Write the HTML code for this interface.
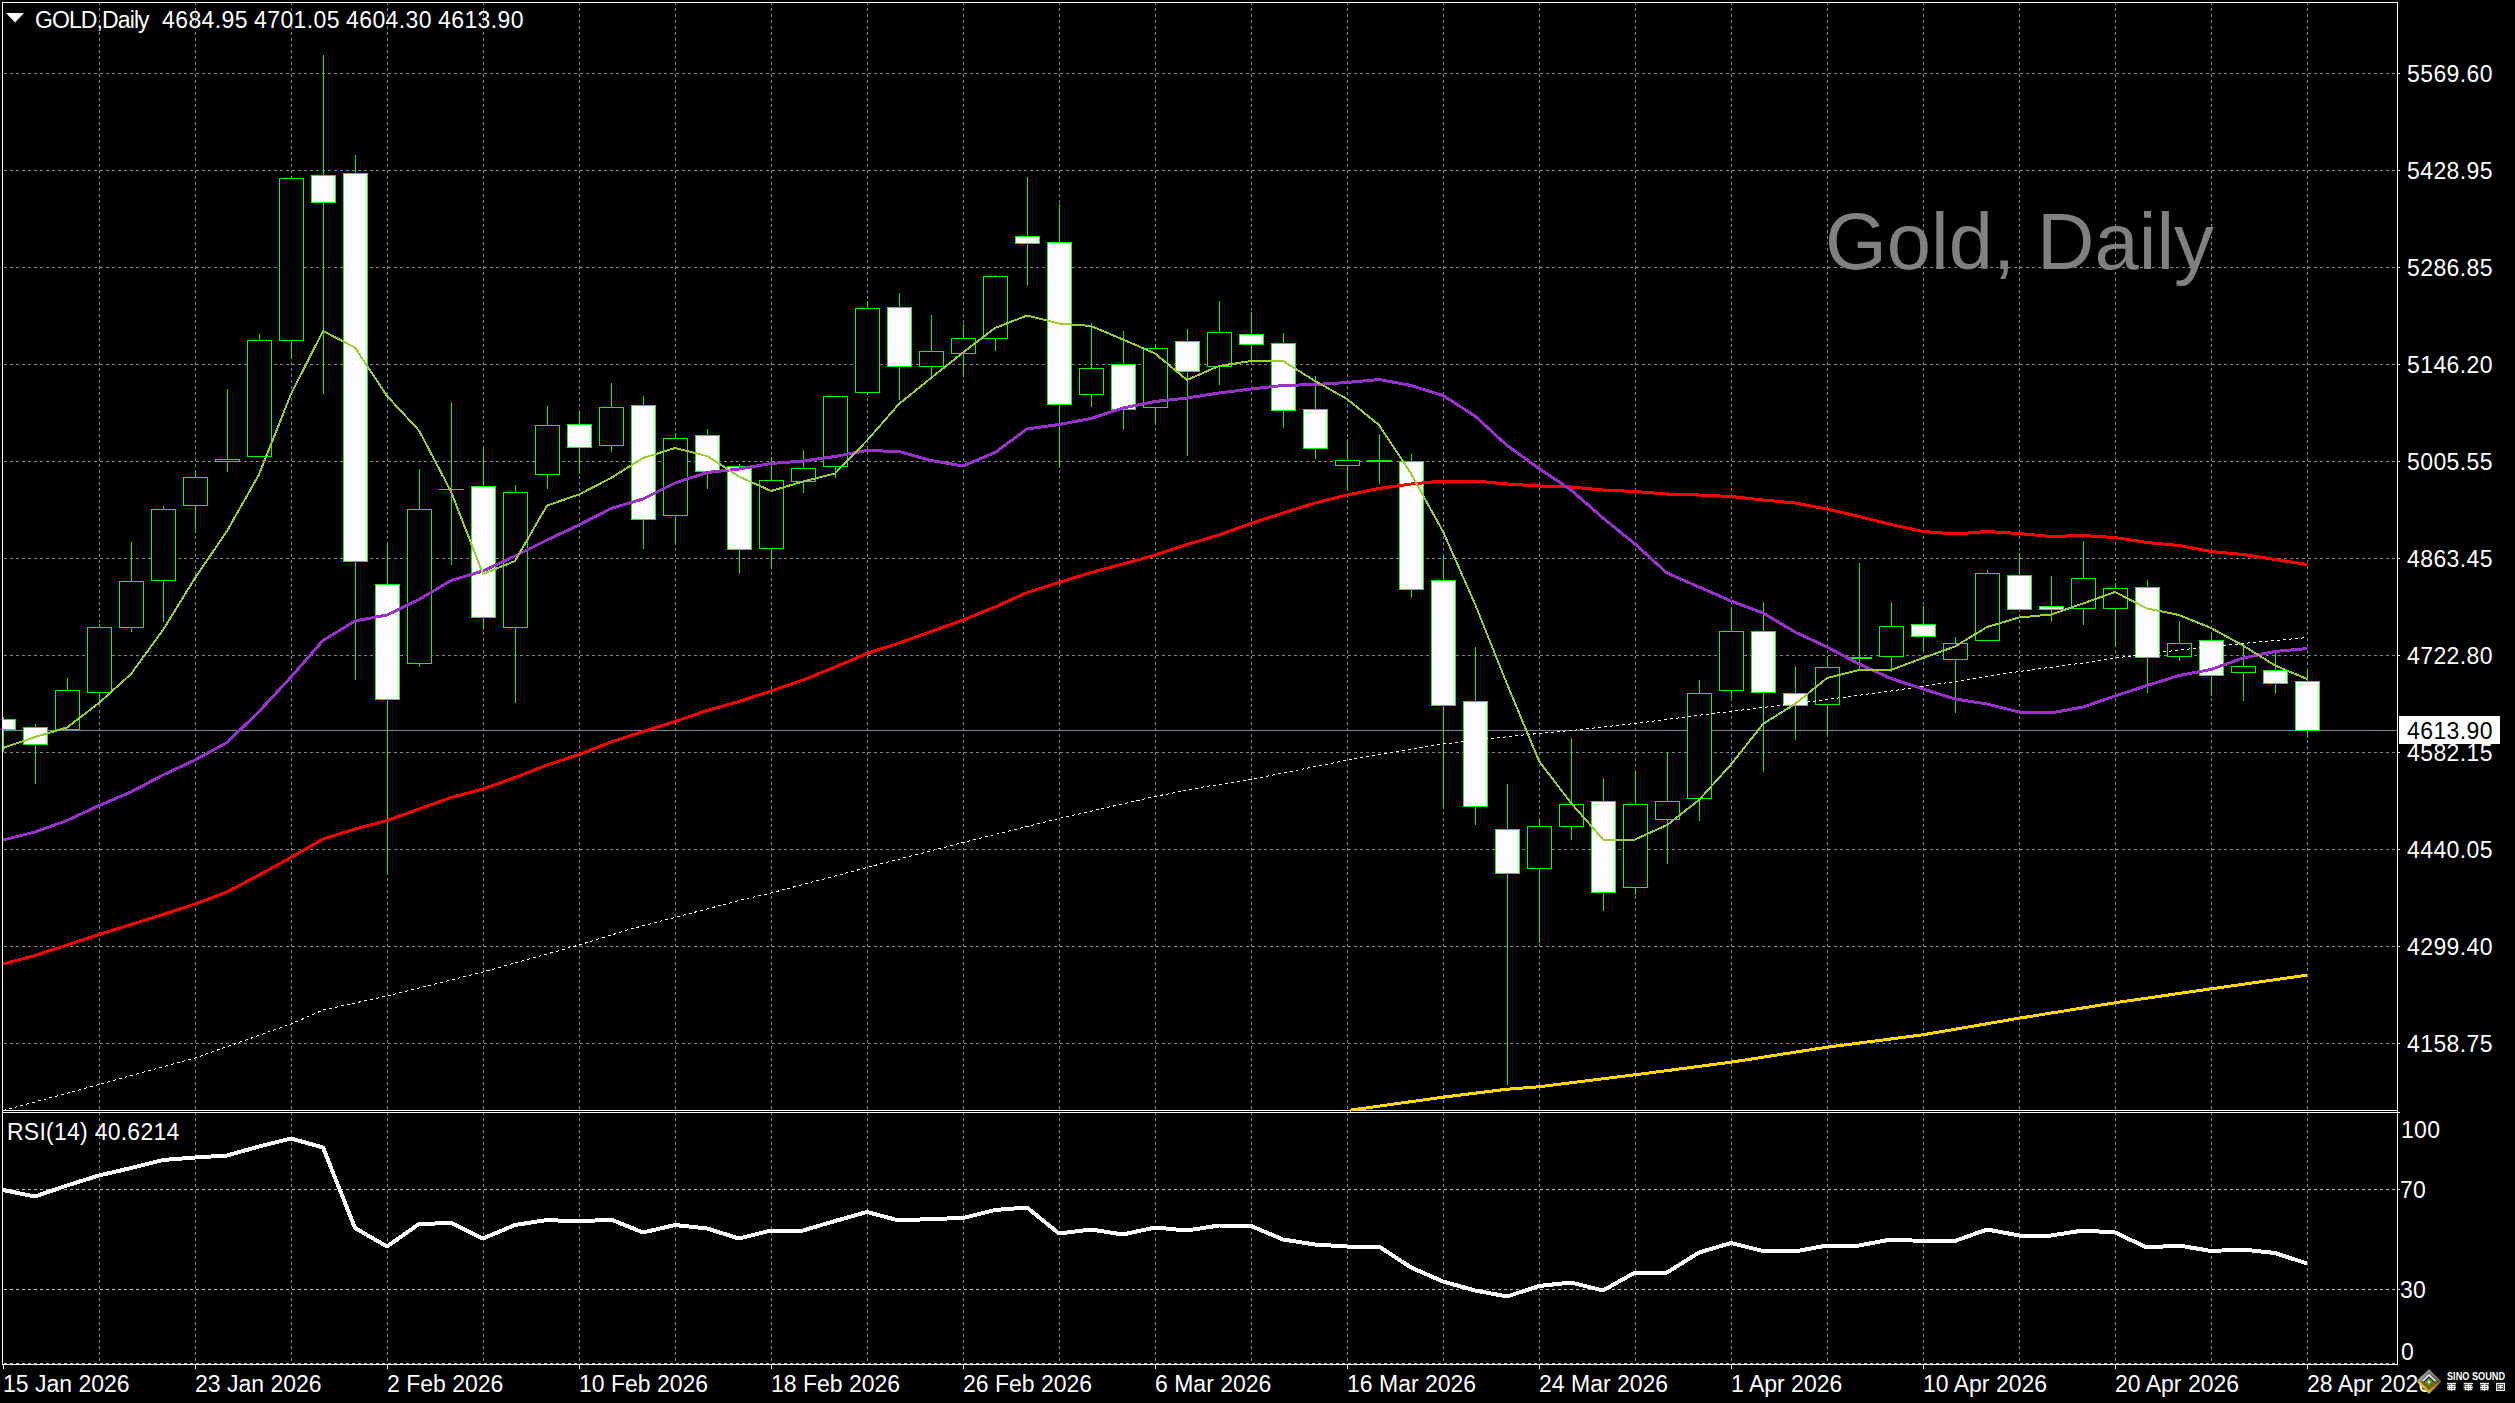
<!DOCTYPE html>
<html><head><meta charset="utf-8"><title>GOLD,Daily</title>
<style>
html,body{margin:0;padding:0;background:#000;}
body{width:2515px;height:1403px;overflow:hidden;position:relative;font-family:"Liberation Sans",sans-serif;}
svg{position:absolute;left:0;top:0;}
.t{position:absolute;color:#fff;font-size:23px;line-height:1;white-space:nowrap;}
</style></head><body>
<svg width="2515" height="1403" viewBox="0 0 2515 1403">
<rect x="0" y="0" width="2515" height="1403" fill="#000"/>
<text x="1825" y="269" font-family="Liberation Sans, sans-serif" font-size="79.5" fill="#808080">Gold, Daily</text>
<g shape-rendering="crispEdges" stroke="#778899" stroke-width="1" stroke-dasharray="3 3" fill="none">
<line x1="4" y1="73.5" x2="2398" y2="73.5"/>
<line x1="4" y1="170.5" x2="2398" y2="170.5"/>
<line x1="4" y1="267.5" x2="2398" y2="267.5"/>
<line x1="4" y1="364.5" x2="2398" y2="364.5"/>
<line x1="4" y1="461.5" x2="2398" y2="461.5"/>
<line x1="4" y1="558.5" x2="2398" y2="558.5"/>
<line x1="4" y1="655.5" x2="2398" y2="655.5"/>
<line x1="4" y1="752.5" x2="2398" y2="752.5"/>
<line x1="4" y1="849.5" x2="2398" y2="849.5"/>
<line x1="4" y1="946.5" x2="2398" y2="946.5"/>
<line x1="4" y1="1043.5" x2="2398" y2="1043.5"/>
<line x1="99.5" y1="2" x2="99.5" y2="1110"/>
<line x1="99.5" y1="1112" x2="99.5" y2="1364"/>
<line x1="195.5" y1="2" x2="195.5" y2="1110"/>
<line x1="195.5" y1="1112" x2="195.5" y2="1364"/>
<line x1="291.5" y1="2" x2="291.5" y2="1110"/>
<line x1="291.5" y1="1112" x2="291.5" y2="1364"/>
<line x1="387.5" y1="2" x2="387.5" y2="1110"/>
<line x1="387.5" y1="1112" x2="387.5" y2="1364"/>
<line x1="483.5" y1="2" x2="483.5" y2="1110"/>
<line x1="483.5" y1="1112" x2="483.5" y2="1364"/>
<line x1="579.5" y1="2" x2="579.5" y2="1110"/>
<line x1="579.5" y1="1112" x2="579.5" y2="1364"/>
<line x1="675.5" y1="2" x2="675.5" y2="1110"/>
<line x1="675.5" y1="1112" x2="675.5" y2="1364"/>
<line x1="771.5" y1="2" x2="771.5" y2="1110"/>
<line x1="771.5" y1="1112" x2="771.5" y2="1364"/>
<line x1="867.5" y1="2" x2="867.5" y2="1110"/>
<line x1="867.5" y1="1112" x2="867.5" y2="1364"/>
<line x1="963.5" y1="2" x2="963.5" y2="1110"/>
<line x1="963.5" y1="1112" x2="963.5" y2="1364"/>
<line x1="1059.5" y1="2" x2="1059.5" y2="1110"/>
<line x1="1059.5" y1="1112" x2="1059.5" y2="1364"/>
<line x1="1155.5" y1="2" x2="1155.5" y2="1110"/>
<line x1="1155.5" y1="1112" x2="1155.5" y2="1364"/>
<line x1="1251.5" y1="2" x2="1251.5" y2="1110"/>
<line x1="1251.5" y1="1112" x2="1251.5" y2="1364"/>
<line x1="1347.5" y1="2" x2="1347.5" y2="1110"/>
<line x1="1347.5" y1="1112" x2="1347.5" y2="1364"/>
<line x1="1443.5" y1="2" x2="1443.5" y2="1110"/>
<line x1="1443.5" y1="1112" x2="1443.5" y2="1364"/>
<line x1="1539.5" y1="2" x2="1539.5" y2="1110"/>
<line x1="1539.5" y1="1112" x2="1539.5" y2="1364"/>
<line x1="1635.5" y1="2" x2="1635.5" y2="1110"/>
<line x1="1635.5" y1="1112" x2="1635.5" y2="1364"/>
<line x1="1731.5" y1="2" x2="1731.5" y2="1110"/>
<line x1="1731.5" y1="1112" x2="1731.5" y2="1364"/>
<line x1="1827.5" y1="2" x2="1827.5" y2="1110"/>
<line x1="1827.5" y1="1112" x2="1827.5" y2="1364"/>
<line x1="1923.5" y1="2" x2="1923.5" y2="1110"/>
<line x1="1923.5" y1="1112" x2="1923.5" y2="1364"/>
<line x1="2019.5" y1="2" x2="2019.5" y2="1110"/>
<line x1="2019.5" y1="1112" x2="2019.5" y2="1364"/>
<line x1="2115.5" y1="2" x2="2115.5" y2="1110"/>
<line x1="2115.5" y1="1112" x2="2115.5" y2="1364"/>
<line x1="2211.5" y1="2" x2="2211.5" y2="1110"/>
<line x1="2211.5" y1="1112" x2="2211.5" y2="1364"/>
<line x1="2307.5" y1="2" x2="2307.5" y2="1110"/>
<line x1="2307.5" y1="1112" x2="2307.5" y2="1364"/>
</g>
<g shape-rendering="crispEdges" stroke="#c0c0c0" stroke-width="1" stroke-dasharray="3 3" fill="none">
<line x1="4" y1="1189.5" x2="2398" y2="1189.5"/>
<line x1="4" y1="1289.5" x2="2398" y2="1289.5"/>
<line x1="4" y1="1363.5" x2="2398" y2="1363.5"/>
</g>
<g shape-rendering="crispEdges" fill="#fff">
<rect x="2" y="2" width="2396" height="1"/>
<rect x="2" y="2" width="1" height="1363"/>
<rect x="2397" y="2" width="1" height="1363"/>
<rect x="2" y="1110" width="2396" height="1"/>
<rect x="2" y="1112" width="2398" height="1"/>
<rect x="2" y="1364" width="2396" height="1"/>
<rect x="2398" y="73" width="2" height="1"/>
<rect x="2398" y="170" width="2" height="1"/>
<rect x="2398" y="267" width="2" height="1"/>
<rect x="2398" y="364" width="2" height="1"/>
<rect x="2398" y="461" width="2" height="1"/>
<rect x="2398" y="558" width="2" height="1"/>
<rect x="2398" y="655" width="2" height="1"/>
<rect x="2398" y="752" width="2" height="1"/>
<rect x="2398" y="849" width="2" height="1"/>
<rect x="2398" y="946" width="2" height="1"/>
<rect x="2398" y="1043" width="2" height="1"/>
<rect x="2398" y="1189" width="2" height="1"/>
<rect x="2398" y="1289" width="2" height="1"/>
<rect x="3" y="1365" width="1" height="4"/>
<rect x="195" y="1365" width="1" height="4"/>
<rect x="387" y="1365" width="1" height="4"/>
<rect x="579" y="1365" width="1" height="4"/>
<rect x="771" y="1365" width="1" height="4"/>
<rect x="963" y="1365" width="1" height="4"/>
<rect x="1155" y="1365" width="1" height="4"/>
<rect x="1347" y="1365" width="1" height="4"/>
<rect x="1539" y="1365" width="1" height="4"/>
<rect x="1731" y="1365" width="1" height="4"/>
<rect x="1923" y="1365" width="1" height="4"/>
<rect x="2115" y="1365" width="1" height="4"/>
<rect x="2307" y="1365" width="1" height="4"/>
</g>
<rect x="3" y="730" width="2394" height="1" fill="#778899" shape-rendering="crispEdges"/>
<g shape-rendering="crispEdges">
<rect x="3" y="717" width="1" height="35" fill="#00ff00"/>
<rect x="-9" y="719" width="25" height="11" fill="#00ff00"/>
<rect x="-8" y="720" width="23" height="9" fill="#fff"/>
<rect x="35" y="724" width="1" height="60" fill="#00ff00"/>
<rect x="23" y="727" width="25" height="18" fill="#00ff00"/>
<rect x="24" y="728" width="23" height="16" fill="#fff"/>
<rect x="67" y="678" width="1" height="52" fill="#00ff00"/>
<rect x="55" y="690" width="25" height="40" fill="#00ff00"/>
<rect x="56" y="691" width="23" height="38" fill="#000"/>
<rect x="99" y="624" width="1" height="77" fill="#00ff00"/>
<rect x="87" y="627" width="25" height="66" fill="#00ff00"/>
<rect x="88" y="628" width="23" height="64" fill="#000"/>
<rect x="131" y="542" width="1" height="90" fill="#00ff00"/>
<rect x="119" y="581" width="25" height="47" fill="#00ff00"/>
<rect x="120" y="582" width="23" height="45" fill="#000"/>
<rect x="163" y="506" width="1" height="116" fill="#00ff00"/>
<rect x="151" y="509" width="25" height="72" fill="#00ff00"/>
<rect x="152" y="510" width="23" height="70" fill="#000"/>
<rect x="195" y="471" width="1" height="62" fill="#00ff00"/>
<rect x="183" y="477" width="25" height="29" fill="#00ff00"/>
<rect x="184" y="478" width="23" height="27" fill="#000"/>
<rect x="227" y="389" width="1" height="83" fill="#00ff00"/>
<rect x="215" y="459" width="25" height="3" fill="#00ff00"/>
<rect x="216" y="460" width="23" height="1" fill="#000"/>
<rect x="259" y="334" width="1" height="123" fill="#00ff00"/>
<rect x="247" y="340" width="25" height="117" fill="#00ff00"/>
<rect x="248" y="341" width="23" height="115" fill="#000"/>
<rect x="291" y="177" width="1" height="182" fill="#00ff00"/>
<rect x="279" y="178" width="25" height="163" fill="#00ff00"/>
<rect x="280" y="179" width="23" height="161" fill="#000"/>
<rect x="323" y="55" width="1" height="339" fill="#00ff00"/>
<rect x="311" y="175" width="25" height="28" fill="#00ff00"/>
<rect x="312" y="176" width="23" height="26" fill="#fff"/>
<rect x="355" y="155" width="1" height="525" fill="#00ff00"/>
<rect x="343" y="173" width="25" height="389" fill="#00ff00"/>
<rect x="344" y="174" width="23" height="387" fill="#fff"/>
<rect x="387" y="544" width="1" height="331" fill="#00ff00"/>
<rect x="375" y="584" width="25" height="116" fill="#00ff00"/>
<rect x="376" y="585" width="23" height="114" fill="#fff"/>
<rect x="419" y="469" width="1" height="198" fill="#00ff00"/>
<rect x="407" y="509" width="25" height="155" fill="#00ff00"/>
<rect x="408" y="510" width="23" height="153" fill="#000"/>
<rect x="451" y="402" width="1" height="163" fill="#00ff00"/>
<rect x="439" y="489" width="25" height="1" fill="#00ff00"/>
<rect x="483" y="449" width="1" height="181" fill="#00ff00"/>
<rect x="471" y="486" width="25" height="132" fill="#00ff00"/>
<rect x="472" y="487" width="23" height="130" fill="#fff"/>
<rect x="515" y="485" width="1" height="218" fill="#00ff00"/>
<rect x="503" y="492" width="25" height="136" fill="#00ff00"/>
<rect x="504" y="493" width="23" height="134" fill="#000"/>
<rect x="547" y="406" width="1" height="83" fill="#00ff00"/>
<rect x="535" y="425" width="25" height="50" fill="#00ff00"/>
<rect x="536" y="426" width="23" height="48" fill="#000"/>
<rect x="579" y="410" width="1" height="64" fill="#00ff00"/>
<rect x="567" y="424" width="25" height="24" fill="#00ff00"/>
<rect x="568" y="425" width="23" height="22" fill="#fff"/>
<rect x="611" y="383" width="1" height="69" fill="#00ff00"/>
<rect x="599" y="407" width="25" height="39" fill="#00ff00"/>
<rect x="600" y="408" width="23" height="37" fill="#000"/>
<rect x="643" y="396" width="1" height="153" fill="#00ff00"/>
<rect x="631" y="405" width="25" height="115" fill="#00ff00"/>
<rect x="632" y="406" width="23" height="113" fill="#fff"/>
<rect x="675" y="433" width="1" height="111" fill="#00ff00"/>
<rect x="663" y="438" width="25" height="78" fill="#00ff00"/>
<rect x="664" y="439" width="23" height="76" fill="#000"/>
<rect x="707" y="429" width="1" height="60" fill="#00ff00"/>
<rect x="695" y="435" width="25" height="37" fill="#00ff00"/>
<rect x="696" y="436" width="23" height="35" fill="#fff"/>
<rect x="739" y="464" width="1" height="110" fill="#00ff00"/>
<rect x="727" y="466" width="25" height="84" fill="#00ff00"/>
<rect x="728" y="467" width="23" height="82" fill="#fff"/>
<rect x="771" y="457" width="1" height="112" fill="#00ff00"/>
<rect x="759" y="480" width="25" height="69" fill="#00ff00"/>
<rect x="760" y="481" width="23" height="67" fill="#000"/>
<rect x="803" y="450" width="1" height="43" fill="#00ff00"/>
<rect x="791" y="468" width="25" height="14" fill="#00ff00"/>
<rect x="792" y="469" width="23" height="12" fill="#000"/>
<rect x="835" y="396" width="1" height="82" fill="#00ff00"/>
<rect x="823" y="396" width="25" height="71" fill="#00ff00"/>
<rect x="824" y="397" width="23" height="69" fill="#000"/>
<rect x="867" y="301" width="1" height="94" fill="#00ff00"/>
<rect x="855" y="308" width="25" height="85" fill="#00ff00"/>
<rect x="856" y="309" width="23" height="83" fill="#000"/>
<rect x="899" y="293" width="1" height="107" fill="#00ff00"/>
<rect x="887" y="307" width="25" height="60" fill="#00ff00"/>
<rect x="888" y="308" width="23" height="58" fill="#fff"/>
<rect x="931" y="315" width="1" height="62" fill="#00ff00"/>
<rect x="919" y="351" width="25" height="16" fill="#00ff00"/>
<rect x="920" y="352" width="23" height="14" fill="#000"/>
<rect x="963" y="324" width="1" height="53" fill="#00ff00"/>
<rect x="951" y="338" width="25" height="16" fill="#00ff00"/>
<rect x="952" y="339" width="23" height="14" fill="#000"/>
<rect x="995" y="275" width="1" height="76" fill="#00ff00"/>
<rect x="983" y="276" width="25" height="63" fill="#00ff00"/>
<rect x="984" y="277" width="23" height="61" fill="#000"/>
<rect x="1027" y="177" width="1" height="109" fill="#00ff00"/>
<rect x="1015" y="236" width="25" height="8" fill="#00ff00"/>
<rect x="1016" y="237" width="23" height="6" fill="#fff"/>
<rect x="1059" y="204" width="1" height="264" fill="#00ff00"/>
<rect x="1047" y="242" width="25" height="163" fill="#00ff00"/>
<rect x="1048" y="243" width="23" height="161" fill="#fff"/>
<rect x="1091" y="323" width="1" height="84" fill="#00ff00"/>
<rect x="1079" y="368" width="25" height="27" fill="#00ff00"/>
<rect x="1080" y="369" width="23" height="25" fill="#000"/>
<rect x="1123" y="331" width="1" height="99" fill="#00ff00"/>
<rect x="1111" y="364" width="25" height="46" fill="#00ff00"/>
<rect x="1112" y="365" width="23" height="44" fill="#fff"/>
<rect x="1155" y="345" width="1" height="79" fill="#00ff00"/>
<rect x="1143" y="348" width="25" height="60" fill="#00ff00"/>
<rect x="1144" y="349" width="23" height="58" fill="#000"/>
<rect x="1187" y="329" width="1" height="127" fill="#00ff00"/>
<rect x="1175" y="341" width="25" height="31" fill="#00ff00"/>
<rect x="1176" y="342" width="23" height="29" fill="#fff"/>
<rect x="1219" y="301" width="1" height="84" fill="#00ff00"/>
<rect x="1207" y="332" width="25" height="35" fill="#00ff00"/>
<rect x="1208" y="333" width="23" height="33" fill="#000"/>
<rect x="1251" y="312" width="1" height="49" fill="#00ff00"/>
<rect x="1239" y="334" width="25" height="11" fill="#00ff00"/>
<rect x="1240" y="335" width="23" height="9" fill="#fff"/>
<rect x="1283" y="333" width="1" height="95" fill="#00ff00"/>
<rect x="1271" y="343" width="25" height="68" fill="#00ff00"/>
<rect x="1272" y="344" width="23" height="66" fill="#fff"/>
<rect x="1315" y="376" width="1" height="83" fill="#00ff00"/>
<rect x="1303" y="409" width="25" height="40" fill="#00ff00"/>
<rect x="1304" y="410" width="23" height="38" fill="#fff"/>
<rect x="1347" y="439" width="1" height="51" fill="#00ff00"/>
<rect x="1335" y="460" width="25" height="6" fill="#00ff00"/>
<rect x="1336" y="461" width="23" height="4" fill="#000"/>
<rect x="1379" y="434" width="1" height="50" fill="#00ff00"/>
<rect x="1367" y="460" width="25" height="2" fill="#00ff00"/>
<rect x="1411" y="454" width="1" height="144" fill="#00ff00"/>
<rect x="1399" y="461" width="25" height="129" fill="#00ff00"/>
<rect x="1400" y="462" width="23" height="127" fill="#fff"/>
<rect x="1443" y="555" width="1" height="252" fill="#00ff00"/>
<rect x="1431" y="580" width="25" height="126" fill="#00ff00"/>
<rect x="1432" y="581" width="23" height="124" fill="#fff"/>
<rect x="1475" y="647" width="1" height="178" fill="#00ff00"/>
<rect x="1463" y="701" width="25" height="106" fill="#00ff00"/>
<rect x="1464" y="702" width="23" height="104" fill="#fff"/>
<rect x="1507" y="784" width="1" height="301" fill="#00ff00"/>
<rect x="1495" y="829" width="25" height="45" fill="#00ff00"/>
<rect x="1496" y="830" width="23" height="43" fill="#fff"/>
<rect x="1539" y="818" width="1" height="125" fill="#00ff00"/>
<rect x="1527" y="826" width="25" height="43" fill="#00ff00"/>
<rect x="1528" y="827" width="23" height="41" fill="#000"/>
<rect x="1571" y="738" width="1" height="102" fill="#00ff00"/>
<rect x="1559" y="804" width="25" height="23" fill="#00ff00"/>
<rect x="1560" y="805" width="23" height="21" fill="#000"/>
<rect x="1603" y="778" width="1" height="133" fill="#00ff00"/>
<rect x="1591" y="801" width="25" height="92" fill="#00ff00"/>
<rect x="1592" y="802" width="23" height="90" fill="#fff"/>
<rect x="1635" y="770" width="1" height="125" fill="#00ff00"/>
<rect x="1623" y="804" width="25" height="84" fill="#00ff00"/>
<rect x="1624" y="805" width="23" height="82" fill="#000"/>
<rect x="1667" y="752" width="1" height="112" fill="#00ff00"/>
<rect x="1655" y="801" width="25" height="19" fill="#00ff00"/>
<rect x="1656" y="802" width="23" height="17" fill="#000"/>
<rect x="1699" y="680" width="1" height="141" fill="#00ff00"/>
<rect x="1687" y="693" width="25" height="106" fill="#00ff00"/>
<rect x="1688" y="694" width="23" height="104" fill="#000"/>
<rect x="1731" y="607" width="1" height="91" fill="#00ff00"/>
<rect x="1719" y="631" width="25" height="60" fill="#00ff00"/>
<rect x="1720" y="632" width="23" height="58" fill="#000"/>
<rect x="1763" y="602" width="1" height="170" fill="#00ff00"/>
<rect x="1751" y="631" width="25" height="62" fill="#00ff00"/>
<rect x="1752" y="632" width="23" height="60" fill="#fff"/>
<rect x="1795" y="666" width="1" height="74" fill="#00ff00"/>
<rect x="1783" y="693" width="25" height="13" fill="#00ff00"/>
<rect x="1784" y="694" width="23" height="11" fill="#fff"/>
<rect x="1827" y="657" width="1" height="79" fill="#00ff00"/>
<rect x="1815" y="667" width="25" height="38" fill="#00ff00"/>
<rect x="1816" y="668" width="23" height="36" fill="#000"/>
<rect x="1859" y="563" width="1" height="106" fill="#00ff00"/>
<rect x="1847" y="657" width="25" height="2" fill="#00ff00"/>
<rect x="1891" y="602" width="1" height="70" fill="#00ff00"/>
<rect x="1879" y="626" width="25" height="31" fill="#00ff00"/>
<rect x="1880" y="627" width="23" height="29" fill="#000"/>
<rect x="1923" y="606" width="1" height="46" fill="#00ff00"/>
<rect x="1911" y="624" width="25" height="13" fill="#00ff00"/>
<rect x="1912" y="625" width="23" height="11" fill="#fff"/>
<rect x="1955" y="637" width="1" height="76" fill="#00ff00"/>
<rect x="1943" y="643" width="25" height="17" fill="#00ff00"/>
<rect x="1944" y="644" width="23" height="15" fill="#000"/>
<rect x="1987" y="570" width="1" height="71" fill="#00ff00"/>
<rect x="1975" y="573" width="25" height="68" fill="#00ff00"/>
<rect x="1976" y="574" width="23" height="66" fill="#000"/>
<rect x="2019" y="553" width="1" height="59" fill="#00ff00"/>
<rect x="2007" y="575" width="25" height="35" fill="#00ff00"/>
<rect x="2008" y="576" width="23" height="33" fill="#fff"/>
<rect x="2051" y="576" width="1" height="46" fill="#00ff00"/>
<rect x="2039" y="606" width="25" height="4" fill="#00ff00"/>
<rect x="2040" y="607" width="23" height="2" fill="#fff"/>
<rect x="2083" y="541" width="1" height="84" fill="#00ff00"/>
<rect x="2071" y="578" width="25" height="31" fill="#00ff00"/>
<rect x="2072" y="579" width="23" height="29" fill="#000"/>
<rect x="2115" y="583" width="1" height="64" fill="#00ff00"/>
<rect x="2103" y="588" width="25" height="21" fill="#00ff00"/>
<rect x="2104" y="589" width="23" height="19" fill="#000"/>
<rect x="2147" y="580" width="1" height="113" fill="#00ff00"/>
<rect x="2135" y="587" width="25" height="71" fill="#00ff00"/>
<rect x="2136" y="588" width="23" height="69" fill="#fff"/>
<rect x="2179" y="621" width="1" height="40" fill="#00ff00"/>
<rect x="2167" y="643" width="25" height="14" fill="#00ff00"/>
<rect x="2168" y="644" width="23" height="12" fill="#000"/>
<rect x="2211" y="634" width="1" height="62" fill="#00ff00"/>
<rect x="2199" y="640" width="25" height="36" fill="#00ff00"/>
<rect x="2200" y="641" width="23" height="34" fill="#fff"/>
<rect x="2243" y="643" width="1" height="58" fill="#00ff00"/>
<rect x="2231" y="666" width="25" height="7" fill="#00ff00"/>
<rect x="2232" y="667" width="23" height="5" fill="#000"/>
<rect x="2275" y="650" width="1" height="44" fill="#00ff00"/>
<rect x="2263" y="670" width="25" height="14" fill="#00ff00"/>
<rect x="2264" y="671" width="23" height="12" fill="#fff"/>
<rect x="2307" y="670" width="1" height="68" fill="#00ff00"/>
<rect x="2295" y="681" width="25" height="50" fill="#00ff00"/>
<rect x="2296" y="682" width="23" height="48" fill="#fff"/>
</g>
<rect x="0" y="3" width="2" height="1360" fill="#000"/>
<rect x="2" y="3" width="1" height="1360" fill="#fff" shape-rendering="crispEdges"/>
<g fill="none" stroke-linejoin="round" stroke-linecap="butt" shape-rendering="crispEdges">
<polyline points="1350,1110.2 1443,1097.2 1507,1089.2 1539,1086.8 1635,1074.8 1731,1062.2 1827,1047.2 1923,1034.8 2019,1018.2 2115,1002.8 2211,988.8 2307,975.2" stroke="#ffd700" stroke-width="3"/>
<polyline points="3,964.0 35,955.5 67,945.0 99,934.5 131,924.5 163,914.5 195,904.0 227,892.0 259,875.0 291,857.5 323,839.0 355,829.0 387,820.5 419,809.0 451,797.5 483,789.0 515,777.5 547,765.0 579,754.5 611,742.0 643,731.5 675,721.5 707,710.5 739,701.5 771,691.0 803,680.0 835,667.0 867,653.5 899,643.0 931,631.5 963,620.0 995,607.0 1027,592.5 1059,582.5 1091,572.5 1123,564.0 1155,555.0 1187,544.5 1219,535.0 1251,523.5 1283,513.0 1315,503.0 1347,495.0 1379,488.5 1411,484.0 1443,481.0 1475,481.0 1507,484.0 1539,486.0 1571,487.0 1603,490.0 1635,491.5 1667,494.0 1699,495.0 1731,496.5 1763,500.0 1795,503.0 1827,509.0 1859,516.5 1891,524.5 1923,531.5 1955,534.0 1987,531.5 2019,533.5 2051,536.5 2083,535.5 2115,537.5 2147,542.5 2179,545.5 2211,551.5 2243,554.5 2275,559.5 2307,564.5" stroke="#ff0000" stroke-width="3"/>
<polyline points="3,1110.5 9,1109.0 99,1084.5 195,1058.0 291,1024.0 323,1010.0 387,996.0 483,972.0 579,945.0 629,929.5 743,899.5 771,893.0 867,867.5 963,842.5 1059,818.5 1155,796.5 1203,787.0 1251,779.5 1348,760.0 1443,744.0 1523,735.0 1576,730.0 1635,723.5 1701,715.0 1763,707.5 1808,702.0 1891,691.0 1955,681.5 2019,671.5 2083,663.0 2115,658.0 2179,650.0 2243,643.5 2307,637.5" stroke="#ffffff" stroke-width="1" stroke-dasharray="3 3"/>
<polyline points="3,840.0 35,832.0 67,820.5 99,805.5 131,792.0 163,775.0 195,760.0 227,742.5 259,711.5 291,677.0 323,640.5 355,621.0 387,615.0 419,599.5 451,580.5 483,571.0 515,556.0 547,540.0 579,525.0 611,508.5 643,499.0 675,483.0 707,472.5 739,469.0 771,463.5 803,461.0 835,456.5 867,450.5 899,451.5 931,460.5 963,466.0 995,452.5 1027,429.0 1059,424.5 1091,418.5 1123,408.0 1155,401.5 1187,398.0 1219,393.0 1251,389.0 1283,385.5 1315,384.5 1347,382.5 1379,379.5 1411,385.5 1443,395.5 1475,416.0 1507,445.5 1539,468.5 1571,490.0 1603,518.0 1635,544.0 1667,573.0 1699,587.0 1731,601.0 1763,613.0 1795,632.0 1827,647.0 1859,664.0 1891,678.5 1923,689.0 1955,699.0 1987,704.0 2019,712.0 2051,713.0 2083,707.0 2115,696.0 2147,685.5 2179,675.5 2211,669.5 2243,658.0 2275,651.5 2307,648.5" stroke="#9932cc" stroke-width="3"/>
<polyline points="3,748.0 35,737.0 67,727.5 99,703.0 131,674.0 163,630.0 195,578.0 227,531.0 259,474.5 291,394.0 323,331.0 355,347.5 387,396.0 419,430.5 451,491.5 483,574.0 515,561.0 547,505.5 579,494.5 611,478.0 643,458.0 675,448.0 707,456.0 739,476.5 771,491.0 803,481.5 835,473.5 867,440.5 899,404.0 931,378.0 963,352.5 995,328.0 1027,315.5 1059,323.5 1091,326.0 1123,339.5 1155,353.5 1187,380.0 1219,366.0 1251,361.0 1283,361.0 1315,381.0 1347,399.0 1379,425.0 1411,473.5 1443,531.5 1475,604.0 1507,684.0 1539,761.0 1571,803.0 1603,839.5 1635,839.5 1667,825.0 1699,800.0 1731,764.5 1763,724.0 1795,704.0 1827,678.0 1859,670.0 1891,670.0 1923,658.0 1955,646.5 1987,627.0 2019,617.5 2051,614.5 2083,603.5 2115,592.0 2147,608.5 2179,615.0 2211,628.0 2243,645.5 2275,665.5 2307,679.0" stroke="#9acd32" stroke-width="2"/>
<polyline points="3,1190.0 35,1196.5 67,1185.5 99,1175.5 131,1168.0 163,1160.0 195,1157.5 227,1155.5 259,1146.5 291,1138.5 323,1147.5 355,1228.0 387,1246.5 419,1224.0 451,1223.0 483,1238.5 515,1225.0 547,1220.0 579,1221.5 611,1219.5 643,1232.5 675,1225.0 707,1228.5 739,1238.5 771,1230.5 803,1230.5 835,1221.0 867,1212.0 899,1220.5 931,1219.0 963,1218.0 995,1210.0 1027,1207.5 1059,1233.5 1091,1229.5 1123,1234.5 1155,1227.5 1187,1230.5 1219,1225.5 1251,1226.0 1283,1239.5 1315,1244.5 1347,1246.5 1379,1246.5 1411,1267.5 1443,1281.5 1475,1290.5 1507,1296.5 1539,1286.0 1571,1282.5 1603,1290.5 1635,1272.5 1667,1272.5 1699,1252.5 1731,1243.0 1763,1251.0 1795,1251.5 1827,1245.5 1859,1245.5 1891,1239.5 1923,1241.0 1955,1241.0 1987,1229.5 2019,1235.5 2051,1235.5 2083,1230.5 2115,1232.5 2147,1247.5 2179,1245.5 2211,1251.0 2243,1249.5 2275,1253.0 2307,1263.5" stroke="#ffffff" stroke-width="4"/>
</g>
<polygon points="6,13 24,13 15,22.5" fill="#fff"/>
<rect x="2399" y="716" width="101" height="28" fill="#fff" shape-rendering="crispEdges"/>
</svg>
<div class="t" style="left:35px;top:9px;letter-spacing:-0.9px;">GOLD,Daily</div>
<div class="t" style="left:162px;top:9px;letter-spacing:0.4px;">4684.95</div>
<div class="t" style="left:254px;top:9px;letter-spacing:0.4px;">4701.05</div>
<div class="t" style="left:346px;top:9px;letter-spacing:0.4px;">4604.30</div>
<div class="t" style="left:438px;top:9px;letter-spacing:0.4px;">4613.90</div>
<div class="t" style="left:2407px;top:63px;letter-spacing:0.4px;">5569.60</div>
<div class="t" style="left:2407px;top:160px;letter-spacing:0.4px;">5428.95</div>
<div class="t" style="left:2407px;top:257px;letter-spacing:0.4px;">5286.85</div>
<div class="t" style="left:2407px;top:354px;letter-spacing:0.4px;">5146.20</div>
<div class="t" style="left:2407px;top:451px;letter-spacing:0.4px;">5005.55</div>
<div class="t" style="left:2407px;top:548px;letter-spacing:0.4px;">4863.45</div>
<div class="t" style="left:2407px;top:645px;letter-spacing:0.4px;">4722.80</div>
<div class="t" style="left:2407px;top:742px;letter-spacing:0.4px;">4582.15</div>
<div class="t" style="left:2407px;top:839px;letter-spacing:0.4px;">4440.05</div>
<div class="t" style="left:2407px;top:936px;letter-spacing:0.4px;">4299.40</div>
<div class="t" style="left:2407px;top:1033px;letter-spacing:0.4px;">4158.75</div>
<div class="t" style="left:2407px;top:720px;color:#000;letter-spacing:0.4px;">4613.90</div>
<div class="t" style="left:2401px;top:1119px;letter-spacing:0.3px;">100</div>
<div class="t" style="left:2400px;top:1179px;letter-spacing:0.3px;">70</div>
<div class="t" style="left:2400px;top:1279px;letter-spacing:0.3px;">30</div>
<div class="t" style="left:2401px;top:1341px;">0</div>
<div class="t" style="left:7px;top:1121px;letter-spacing:0.25px;">RSI(14) 40.6214</div>
<div class="t" style="left:3px;top:1373px;">15 Jan 2026</div>
<div class="t" style="left:195px;top:1373px;">23 Jan 2026</div>
<div class="t" style="left:387px;top:1373px;">2 Feb 2026</div>
<div class="t" style="left:579px;top:1373px;">10 Feb 2026</div>
<div class="t" style="left:771px;top:1373px;">18 Feb 2026</div>
<div class="t" style="left:963px;top:1373px;">26 Feb 2026</div>
<div class="t" style="left:1155px;top:1373px;">6 Mar 2026</div>
<div class="t" style="left:1347px;top:1373px;">16 Mar 2026</div>
<div class="t" style="left:1539px;top:1373px;">24 Mar 2026</div>
<div class="t" style="left:1731px;top:1373px;">1 Apr 2026</div>
<div class="t" style="left:1923px;top:1373px;">10 Apr 2026</div>
<div class="t" style="left:2115px;top:1373px;">20 Apr 2026</div>
<div class="t" style="left:2307px;top:1373px;width:124px;overflow:hidden;">28 Apr 2026</div>
<svg width="2515" height="1403" viewBox="0 0 2515 1403" style="pointer-events:none">
<defs><linearGradient id="sg" x1="0" y1="0" x2="1" y2="0"><stop offset="0" stop-color="#a8a8a8"/><stop offset="0.5" stop-color="#8c8c8c"/><stop offset="1" stop-color="#5e5e5e"/></linearGradient>
<linearGradient id="gg" x1="0" y1="0" x2="1" y2="0"><stop offset="0" stop-color="#e0d020"/><stop offset="0.5" stop-color="#cdb41e"/><stop offset="1" stop-color="#7a5c1c"/></linearGradient></defs>
<polygon points="2416.4,1381.5 2429,1368.9 2441.6,1381.5" fill="url(#sg)"/>
<polygon points="2416.4,1381.5 2429,1394.1 2441.6,1381.5" fill="url(#gg)"/>
<polygon points="2420.4,1381.5 2429,1372.9 2437.6,1381.5 2429,1390.1" fill="#1a1a1a"/>
<polygon points="2421,1381.5 2429,1373.5 2437,1381.5" fill="#e4e4e4"/>
<polygon points="2421,1381.5 2429,1389.5 2437,1381.5" fill="#8a6a22"/>
<polygon points="2423.8,1381.5 2429,1376.3 2434.2,1381.5 2429,1386.7" fill="#000"/>
<polygon points="2424.6,1382.1 2429,1377.7 2433.4,1382.1 2429,1386.5" fill="#62b01c"/>
<polygon points="2426.4,1382.1 2429,1379.5 2431.6,1382.1 2429,1384.7" fill="#1c3008"/>
<polygon points="2427,1382.1 2429,1380.1 2431,1382.1 2429,1384.1" fill="#f0f0f0"/>
<text x="2447" y="1379.8" font-family="Liberation Sans, sans-serif" font-weight="bold" font-size="10.6" fill="#fff" textLength="58" lengthAdjust="spacingAndGlyphs">SINO SOUND</text>
<rect x="2447" y="1382.5" width="9" height="8" fill="#fff" opacity="0.38"/>
<g fill="#f2f2f2" shape-rendering="crispEdges">
<rect x="2447" y="1382.5" width="9" height="1"/>
<rect x="2448" y="1384.5" width="7" height="1"/>
<rect x="2447" y="1386.5" width="9" height="1"/>
<rect x="2448" y="1388.5" width="7" height="1"/>
<rect x="2451" y="1382.5" width="1" height="8"/>
<rect x="2448.5" y="1384.5" width="1" height="5"/>
<rect x="2453.5" y="1384.5" width="1" height="5"/>
</g>
<rect x="2463.5" y="1382.5" width="9" height="8" fill="#fff" opacity="0.38"/>
<g fill="#f2f2f2" shape-rendering="crispEdges">
<rect x="2463.5" y="1382.5" width="9" height="1"/>
<rect x="2464.5" y="1384.5" width="7" height="1"/>
<rect x="2463.5" y="1386.5" width="9" height="1"/>
<rect x="2464.5" y="1388.5" width="7" height="1"/>
<rect x="2467.5" y="1382.5" width="1" height="8"/>
<rect x="2465" y="1384.5" width="1" height="5"/>
<rect x="2470" y="1384.5" width="1" height="5"/>
</g>
<rect x="2480" y="1382.5" width="9" height="8" fill="#fff" opacity="0.38"/>
<g fill="#f2f2f2" shape-rendering="crispEdges">
<rect x="2480" y="1382.5" width="9" height="1"/>
<rect x="2481" y="1384.5" width="7" height="1"/>
<rect x="2480" y="1386.5" width="9" height="1"/>
<rect x="2481" y="1388.5" width="7" height="1"/>
<rect x="2484" y="1382.5" width="1" height="8"/>
<rect x="2481.5" y="1384.5" width="1" height="5"/>
<rect x="2486.5" y="1384.5" width="1" height="5"/>
</g>
<rect x="2496" y="1382.5" width="9" height="8" fill="#fff" opacity="0.38"/>
<g fill="#f2f2f2" shape-rendering="crispEdges">
<rect x="2496" y="1382.5" width="9" height="8"/>
<rect x="2497" y="1383.5" width="7" height="6" fill="#555"/>
<rect x="2498" y="1384.5" width="5" height="1"/>
<rect x="2498" y="1386.5" width="5" height="1"/>
<rect x="2500" y="1384.5" width="1" height="4"/>
</g>
</svg>
</body></html>
